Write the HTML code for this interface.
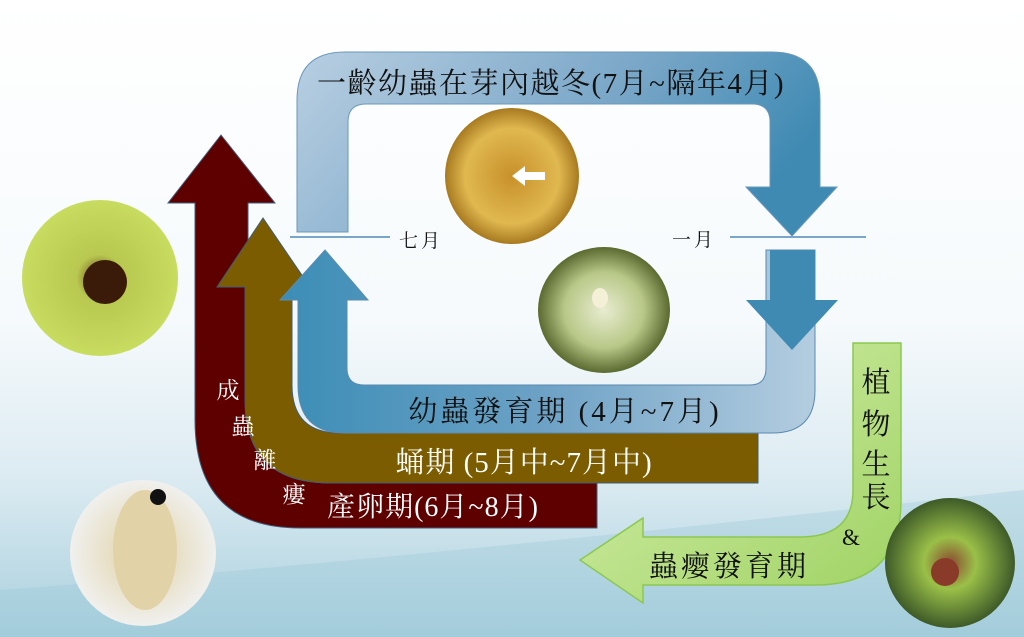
<!DOCTYPE html>
<html><head><meta charset="utf-8"><style>
html,body{margin:0;padding:0;width:1024px;height:637px;overflow:hidden}
svg{display:block}
text{font-family:"Liberation Serif","Noto Serif CJK SC","Noto Serif CJK TC","Noto Sans CJK TC",serif}
</style></head><body>
<svg width="1024" height="637" viewBox="0 0 1024 637" xmlns="http://www.w3.org/2000/svg">
<defs>
<linearGradient id="bg" x1="0" y1="0" x2="0" y2="1">
<stop offset="0" stop-color="#ffffff"/><stop offset="0.5" stop-color="#f6fafc"/><stop offset="0.75" stop-color="#dcebf2"/><stop offset="1" stop-color="#a8cfdd"/></linearGradient>
<linearGradient id="blueT" x1="0" y1="0" x2="1" y2="0.3">
<stop offset="0" stop-color="#b9cfe2"/><stop offset="0.6" stop-color="#7aa7c8"/><stop offset="1" stop-color="#3f8ab3"/></linearGradient>
<linearGradient id="blueB" x1="0" y1="0" x2="1" y2="0">
<stop offset="0" stop-color="#3b8db6"/><stop offset="0.5" stop-color="#6ea2c6"/><stop offset="1" stop-color="#b4cde0"/></linearGradient>
<linearGradient id="green" x1="0" y1="0" x2="1" y2="1">
<stop offset="0" stop-color="#d8f0b0"/><stop offset="1" stop-color="#9ed262"/></linearGradient>
<radialGradient id="p1"><stop offset="0" stop-color="#c8902a"/><stop offset="0.7" stop-color="#e0b850"/><stop offset="1" stop-color="#a87a20"/></radialGradient>
<radialGradient id="p2"><stop offset="0" stop-color="#e8ecd0"/><stop offset="0.6" stop-color="#b8c888"/><stop offset="1" stop-color="#5a6a30"/></radialGradient>
<radialGradient id="p3"><stop offset="0" stop-color="#6a4018"/><stop offset="0.3" stop-color="#b8c850"/><stop offset="1" stop-color="#c8dc60"/></radialGradient>
<radialGradient id="p4"><stop offset="0" stop-color="#e0d0a8"/><stop offset="0.5" stop-color="#e8e0c8"/><stop offset="1" stop-color="#f0f0ee"/></radialGradient>
<radialGradient id="p5"><stop offset="0" stop-color="#8a4a30"/><stop offset="0.4" stop-color="#9ac048"/><stop offset="1" stop-color="#3e5a28"/></radialGradient>
</defs>
<rect width="1024" height="637" fill="url(#bg)"/>
<path d="M0,590 Q400,560 1024,490 L1024,637 L0,637Z" fill="#9cc8d8" opacity="0.35"/>

<path d="M195,203 L168,203 L221,135 L275,203 L248,203 L248,400 Q248,483 330,483 L597,483 L597,528 L300,528 Q195,528 195,420 Z" fill="#5e0000" stroke="#3e5e7a" stroke-width="1"/>
<path d="M245,287 L217,287 L263,218 L310,287 L292,287 L292,385 Q292,433 340,433 L758,433 L758,483 L330,483 Q245,483 245,400 Z" fill="#7c5c00" stroke="#3e5e7a" stroke-width="1"/>
<path d="M815,250 L815,390 Q815,433 772,433 L345,433 Q298,433 298,385 L298,300 L280,300 L325,250 L368,300 L347,300 L347,368 Q347,385 364,385 L750,385 Q766,385 766,368 L766,250 Z" fill="url(#blueB)" stroke="#5a8ab0" stroke-width="1"/>
<path d="M770,250 L815,250 L815,300 L838,300 L792,350 L746,300 L770,300 Z" fill="#3f8ab3"/>
<path d="M297,232 L297,100 Q297,52 345,52 L772,52 Q820,52 820,100 L820,187 L837,187 L792,236 L746,187 L770,187 L770,122 Q770,104 752,104 L366,104 Q348,104 348,122 L348,232 Z" fill="url(#blueT)" stroke="#6a98bb" stroke-width="1"/>
<path d="M853,343 L901,343 L901,500 Q901,585 815,585 L643,585 L643,603 L580,560 L643,518 L643,537 L800,537 Q853,537 853,490 Z" fill="url(#green)" stroke="#8cc850" stroke-width="1.5"/>

<line x1="290" y1="237" x2="390" y2="237" stroke="#7aa7c8" stroke-width="2"/>
<line x1="730" y1="237" x2="866" y2="237" stroke="#7aa7c8" stroke-width="2"/>

<ellipse cx="512" cy="176" rx="67" ry="68" fill="url(#p1)"/>
<path d="M545,172 L525,172 L525,166 L512,176 L525,186 L525,180 L545,180Z" fill="#fff"/>
<ellipse cx="604" cy="310" rx="66" ry="63" fill="url(#p2)"/>
<ellipse cx="600" cy="298" rx="8" ry="10" fill="#f4f0d8"/>
<circle cx="100" cy="278" r="78" fill="url(#p3)"/>
<ellipse cx="105" cy="282" rx="22" ry="22" fill="#3a1a08"/>
<circle cx="143" cy="553" r="73" fill="url(#p4)"/>
<ellipse cx="145" cy="550" rx="32" ry="60" fill="#e2d2a8"/>
<circle cx="158" cy="497" r="8" fill="#111"/>
<circle cx="950" cy="563" r="65" fill="url(#p5)"/>
<circle cx="945" cy="572" r="14" fill="#8a3a28"/>

<text x="551" y="93" font-size="29" letter-spacing="1.5" text-anchor="middle" fill="#111">一齡幼蟲在芽內越冬(7月~隔年4月)</text>
<text x="421" y="247" font-size="19" letter-spacing="3" text-anchor="middle" fill="#111">七月</text>
<text x="694" y="246" font-size="19" letter-spacing="3" text-anchor="middle" fill="#111">一月</text>
<text x="565" y="421" font-size="29" letter-spacing="3" text-anchor="middle" fill="#111">幼蟲發育期 (4月~7月)</text>
<text x="524" y="472" font-size="29" letter-spacing="1" text-anchor="middle" fill="#fff">蛹期 (5月中~7月中)</text>
<text x="433" y="516" font-size="28" letter-spacing="1" text-anchor="middle" fill="#fff">產卵期(6月~8月)</text>
<g font-size="23" fill="#fff" text-anchor="middle">
<text x="228" y="398">成</text><text x="243" y="434">蟲</text><text x="265" y="468">離</text><text x="294" y="502">瘻</text>
</g>
<g font-size="29" fill="#111" text-anchor="middle">
<text x="876" y="392">植</text><text x="876" y="434">物</text><text x="876" y="474">生</text><text x="876" y="507">長</text>
</g>
<text x="851" y="545" font-size="23" text-anchor="middle" fill="#111">&amp;</text>
<text x="729" y="576" font-size="29" letter-spacing="3" text-anchor="middle" fill="#111">蟲瘿發育期</text>
</svg>
</body></html>
